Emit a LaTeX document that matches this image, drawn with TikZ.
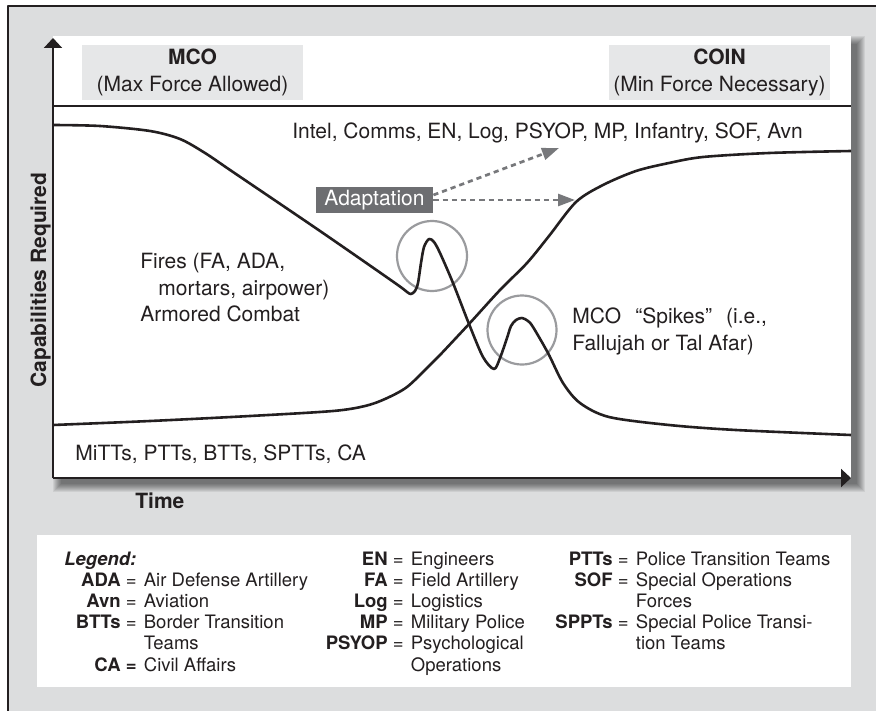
\documentclass[tikz,border=0pt]{standalone}
\usepackage{fontspec}
\setmainfont{TeX Gyre Heros}
\usetikzlibrary{arrows.meta}
\definecolor{framegray}{HTML}{DCDDDE}
\definecolor{boxgray}{HTML}{E6E7E8}
\definecolor{darkbox}{HTML}{6D6E71}
\definecolor{ringgray}{HTML}{9A9B9E}
\definecolor{dashgray}{HTML}{77787B}
\definecolor{inkblack}{HTML}{231F20}
\tikzset{
  lbl/.style={inner sep=0pt,anchor=base west,font=\fontsize{10.5}{13}\selectfont},
  boldlbl/.style={lbl,font=\bfseries\fontsize{10.5}{13}\selectfont},
  legtxt/.style={inner sep=0pt,anchor=base west,font=\fontsize{9.25}{11}\selectfont},
  legkey/.style={legtxt,anchor=base east},
  hdrbox/.style={fill=boxgray,minimum width=110.5pt,minimum height=27.5pt,inner sep=0pt,
    align=center,font=\fontsize{10.5}{13.5}\selectfont},
  adaptbox/.style={fill=darkbox,text=white,minimum width=58.5pt,minimum height=13pt,
    inner sep=0pt,font=\fontsize{10.5}{13}\selectfont},
  axis/.style={line width=1pt},
  curve/.style={line width=1.3pt},
  ring/.style={ringgray,line width=1.1pt},
  dasharrow/.style={dashgray,line width=1.35pt,line cap=butt,dash pattern=on 2.6pt off 2pt,
    -{Triangle[length=8.5pt,width=6pt]}}
}
\begin{document}
\begin{tikzpicture}[line join=round,x=0.5pt,y=-0.5pt,inkblack,
>={Triangle[length=5pt,width=9pt]}]
\useasboundingbox (0,0) rectangle (876,711);
% frame
\fill[framegray] (8,6) rectangle (876,711);
\draw[line width=1pt] (876,6) -- (8,6) -- (8,711);
% shadow and panel
\foreach \k in {0,...,8}
  \fill[black,opacity=0.065] (61-\k,44-\k) rectangle (857+\k,484+\k);
\fill[white] (53,36) rectangle (851,478);
% header boxes
\node[hdrbox] (mco) at (192.5,72.5) {\textbf{MCO}\\(Max Force Allowed)};
\node[hdrbox] (coin) at (719.5,72.5) {\textbf{COIN}\\(Min Force Necessary)};
\draw[axis] (53,106) -- (851,106);
% axes
\coordinate (O) at (53,478);
\coordinate (ytop) at (53,38);
\coordinate (xend) at (851,478);
\draw[axis,->] (O) -- (ytop);
\draw[axis,->] (O) -- (xend);
\node[boldlbl,anchor=base,rotate=90] (capreq) at (46,280) {Capabilities Required};
\node[boldlbl] (time) at (135,508) {Time};
% circles round the spikes
\draw[ring] (432,256) circle[radius=17.5pt];
\draw[ring] (522,330) circle[radius=17.25pt];
% the two curves
\draw[curve] plot[smooth,tension=0.5] coordinates {(53,125) (100,126) (150,131)
  (180,139) (205,153) (233,172) (320,231) (395,283) (407,292) (411,294) (415,291)
  (418,283) (421,263) (424,247) (429,239) (434,242) (440,253) (453,283) (469,324)
  (483,357) (494,369) (500,358) (507,338) (511,326) (516,320) (522,318) (528,321)
  (533,327) (548,353) (563,383) (580,403) (609,417) (669,425) (736,430) (851,435)};
\draw[curve] plot[smooth,tension=0.5] coordinates {(53,425) (150,421) (250,416)
  (333,411) (365,406) (385,399) (407,387) (430,365) (440,355) (469,324) (500,290)
  (527,263) (549,236) (576,202) (603,185) (636,171) (669,163) (703,157) (769,153)
  (851,151)};
% labels
\node[lbl] (units) at (292,139) {Intel, Comms, EN, Log, PSYOP, MP, Infantry, SOF, Avn};
\node[lbl] (fires) at (140,268) {Fires (FA, ADA,};
\node[lbl] (mortars) at (158,295) {mortars, airpower)};
\node[lbl] (armor) at (140,321) {Armored Combat};
\node[lbl] (spikes) at (572,323) {MCO\hspace{0.4em} “Spikes”\hspace{0.4em} (i.e.,};
\node[lbl] (places) at (572,350) {Fallujah or Tal Afar)};
\node[lbl] (teams) at (75,460) {MiTTs, PTTs, BTTs, SPTTs, CA};
% adaptation
\node[adaptbox] (adapt) at (374.5,200) {Adaptation};
\coordinate (tipup) at (559,148);
\coordinate (tipright) at (575,200);
\draw[dasharrow] ([yshift=2.5pt]adapt.east) -- (tipup);
\draw[dasharrow] (adapt.east) -- (tipright);
% legend
\fill[white] (37,535) rectangle (851,687);
\node[legtxt,font=\bfseries\itshape\fontsize{9.25}{11}\selectfont] (legend) at (64,565) {Legend:};
\foreach \ex/\y/\k/\v [count=\i] in {
  137/586/\textbf{ADA} =/Air Defense Artillery, 137/607/\textbf{Avn} =/Aviation,
  137/628/\textbf{BTTs} =/Border Transition, 137/649//Teams,
  137/671/\textbf{CA =}/Civil Affairs,
  404/565/\textbf{EN} =/Engineers, 404/586/\textbf{FA} =/Field Artillery,
  404/607/\textbf{Log} =/Logistics, 404/628/\textbf{MP} =/Military Police,
  404/649/\textbf{PSYOP} =/Psychological, 404/671//Operations,
  629/565/\textbf{PTTs} =/Police Transition Teams, 629/586/\textbf{SOF} =/Special Operations,
  629/607//Forces, 629/628/\textbf{SPPTs} =/Special Police Transi-, 629/649//tion Teams}
{
  \node[legkey] (key\i) at (\ex,\y) {\k};
  \node[legtxt] (val\i) at (\ex+6.5,\y) {\v};
}
\end{tikzpicture}
\end{document}
